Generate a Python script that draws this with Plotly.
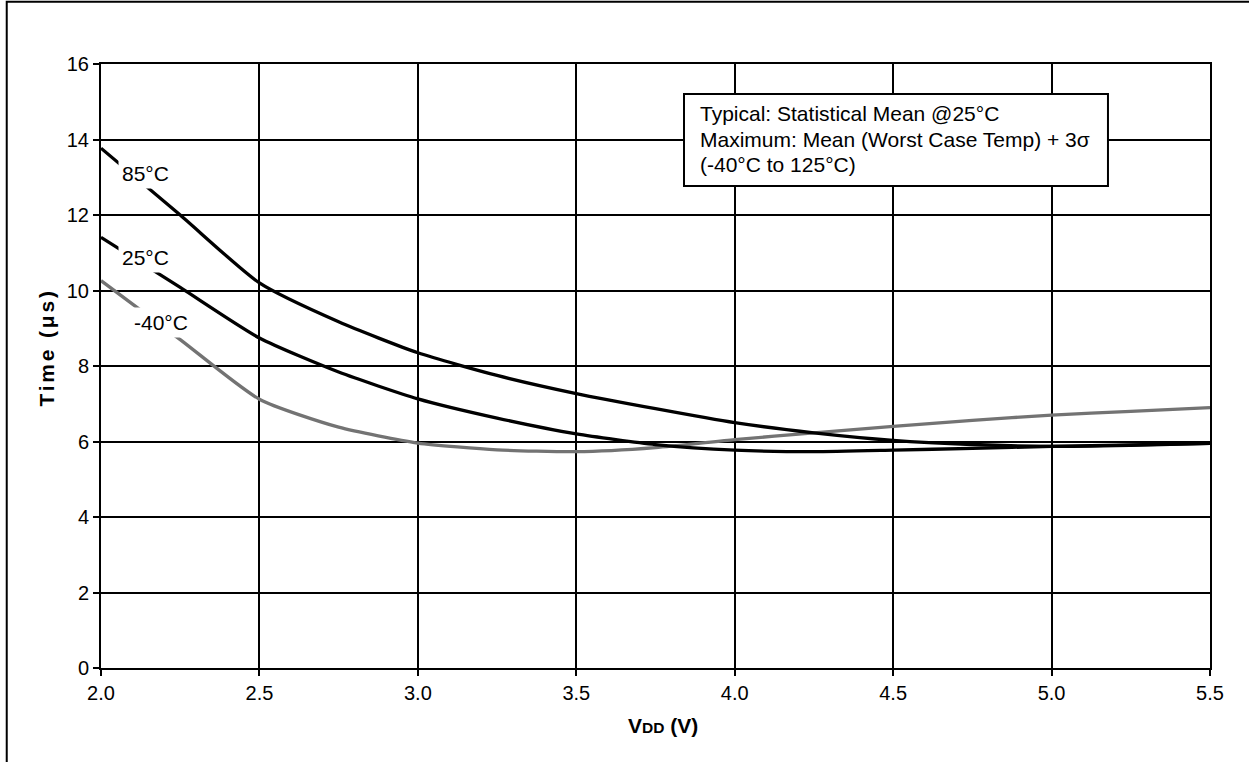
import plotly.graph_objects as go

# ---------------- data ----------------
vdd = [2.0, 2.25, 2.5, 2.75, 3.0, 3.25, 3.5, 3.75, 4.0, 4.25, 4.5, 4.75, 5.0, 5.25, 5.5]
t_85 = [13.77, 12.0, 10.2, 9.17, 8.35, 7.75, 7.27, 6.87, 6.5, 6.23, 6.03, 5.92, 5.87, 5.9, 5.95]
t_25 = [11.41, 10.08, 8.74, 7.84, 7.13, 6.62, 6.2, 5.92, 5.77, 5.73, 5.77, 5.82, 5.87, 5.91, 5.95]
t_m40 = [10.26, 8.7, 7.12, 6.38, 5.96, 5.78, 5.73, 5.84, 6.05, 6.23, 6.4, 6.56, 6.7, 6.8, 6.9]

series_names = ["85°C", "25°C", "-40°C"]
label_x = [2.139, 2.139, 2.190]
label_y = [13.09, 10.88, 9.16]

x_ticks = [2.0, 2.5, 3.0, 3.5, 4.0, 4.5, 5.0, 5.5]
x_tick_labels = ["2.0", "2.5", "3.0", "3.5", "4.0", "4.5", "5.0", "5.5"]
y_ticks = [0, 2, 4, 6, 8, 10, 12, 14, 16]
y_tick_labels = ["0", "2", "4", "6", "8", "10", "12", "14", "16"]

note_lines = [
    "Typical: Statistical Mean @25°C",
    "Maximum: Mean (Worst Case Temp) + 3σ",
    "(-40°C to 125°C)",
]

FONT = "Liberation Sans, Arial, sans-serif"
BLACK = "#000000"
GRAY = "#737373"

fig = go.Figure()
for ys, color in [(t_m40, GRAY), (t_25, BLACK), (t_85, BLACK)]:
    fig.add_trace(go.Scatter(
        x=vdd, y=ys, mode="lines",
        line=dict(color=color, width=3.3, shape="spline", smoothing=0.6),
        showlegend=False, hoverinfo="skip",
    ))

axis_common = dict(
    showgrid=True, gridcolor=BLACK, gridwidth=2,
    showline=True, linecolor=BLACK, linewidth=2, mirror=True,
    ticks="outside", ticklen=6, tickwidth=2, tickcolor=BLACK,
    tickfont=dict(family=FONT, size=20, color=BLACK),
    zeroline=False,
)

fig.update_layout(
    width=1249, height=762,
    margin=dict(l=101, r=39, t=64, b=94),
    paper_bgcolor="white", plot_bgcolor="white",
    font=dict(family=FONT, color=BLACK),
    xaxis=dict(range=[2.0, 5.5], tickvals=x_ticks, ticktext=x_tick_labels, **axis_common),
    yaxis=dict(range=[0, 16], tickvals=y_ticks, ticktext=y_tick_labels, **axis_common),
)

# curve labels (white background hides the line behind)
for name, lx, ly in zip(series_names, label_x, label_y):
    fig.add_annotation(
        x=lx, y=ly, xref="x", yref="y", text=name, showarrow=False,
        font=dict(family=FONT, size=21, color=BLACK),
        bgcolor="white", borderpad=3, xanchor="center", yanchor="middle",
    )

# note box
fig.add_shape(type="rect", xref="paper", yref="paper",
              x0=0.5257, x1=0.908, y0=0.798, y1=0.9503,
              line=dict(color=BLACK, width=2), fillcolor="white", layer="above")
for i, (line_text, yp) in enumerate(zip(note_lines, [0.9184, 0.8758, 0.8339])):
    fig.add_annotation(
        x=0.5383, y=yp, xref="paper", yref="paper", text=line_text, showarrow=False,
        font=dict(family=FONT, size=21, color=BLACK),
        xanchor="left", yanchor="middle", align="left",
    )

# axis titles
fig.add_annotation(
    x=0.5068, y=-0.0952, xref="paper", yref="paper",
    text="<b>V<span style='font-size:15.5px'>DD</span> (V)</b>", showarrow=False,
    font=dict(family=FONT, size=21, color=BLACK), xanchor="center", yanchor="middle",
)
fig.add_annotation(
    x=-0.0487, y=0.5306, xref="paper", yref="paper",
    text="<b><span style='letter-spacing:2.8px'>Time (μs)</span></b>", showarrow=False,
    textangle=-90,
    font=dict(family=FONT, size=21, color=BLACK), xanchor="center", yanchor="middle",
)

# outer frame (extends beyond the right and bottom edges)
fig.add_shape(type="rect", xref="paper", yref="paper",
              x0=-0.085, x1=1.2, y0=-0.3, y1=1.1031,
              line=dict(color=BLACK, width=2), fillcolor="rgba(0,0,0,0)", layer="above")

fig.write_html("out.html", config={"displayModeBar": False},
               post_script="document.body.style.margin='0px';")
